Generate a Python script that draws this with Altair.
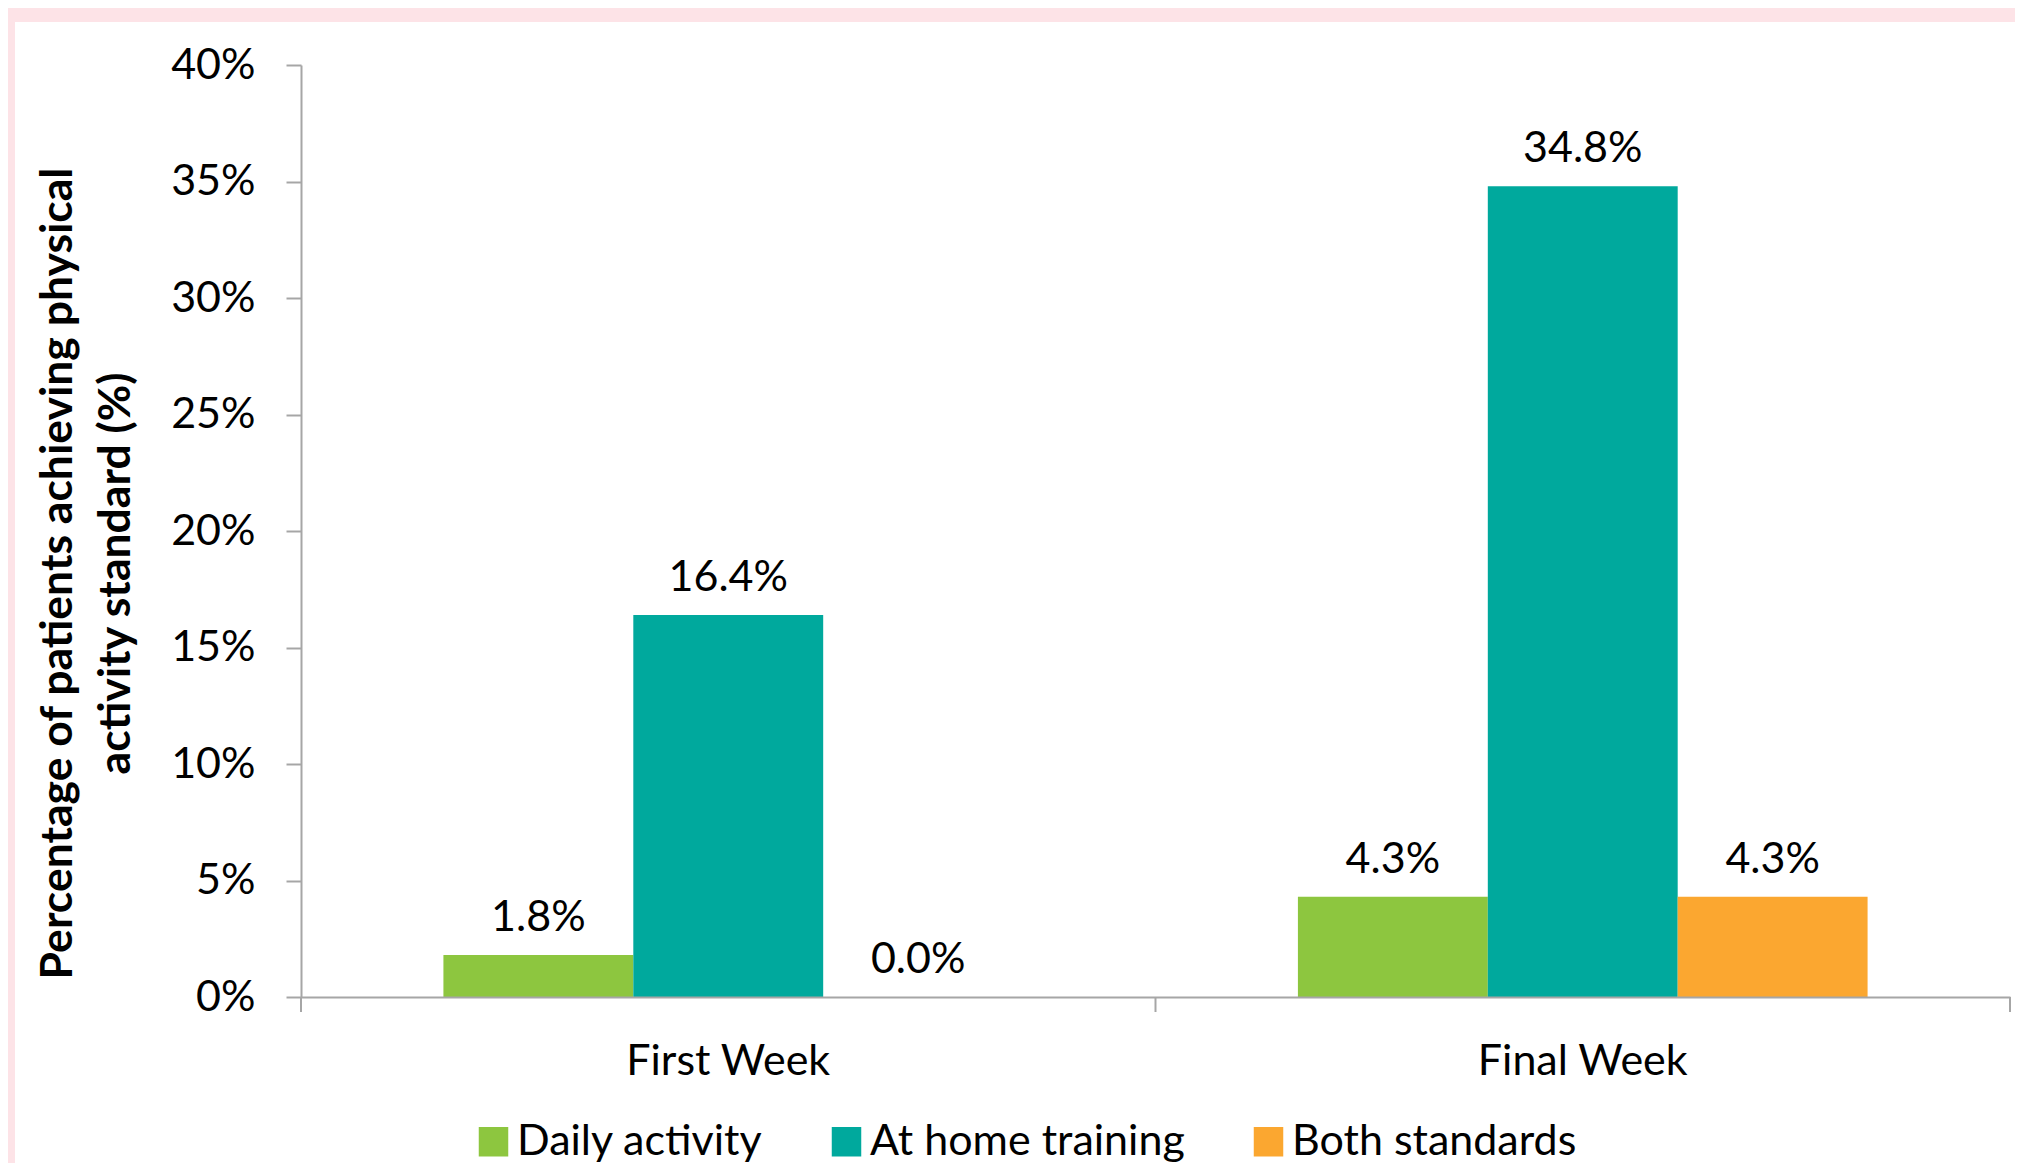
import altair as alt
import pandas as pd

weeks = ["First Week", "Final Week"]
series_names = ["Daily activity", "At home training", "Both standards"]
first_week_values = [0.018, 0.164, 0.000]
final_week_values = [0.043, 0.348, 0.043]
series_colors = ["#8DC63F", "#00A99D", "#FBA730"]
y_ticks = [0, 0.05, 0.10, 0.15, 0.20, 0.25, 0.30, 0.35, 0.40]
y_title = ["Percentage of patients achieving physical", "activity standard (%)"]
category_boundaries = [0, 1, 2]  # edges of the two week groups, in group units

rows = []
for w, vals in zip(weeks, [first_week_values, final_week_values]):
    for s, v in zip(series_names, vals):
        rows.append({"week": w, "series": s, "value": v})
df = pd.DataFrame(rows)

FONT = "Lato"
PINK = "#FDE3E7"
AXIS_GRAY = "#A6A6A6"
W, H = 1709, 932
PAD = {"left": 293, "top": 57, "right": 5, "bottom": 166}
OX, OY = 8 + PAD["left"], 8 + PAD["top"]  # page position of plot origin

x_enc = alt.X(
    "week:N", sort=weeks, title=None,
    scale=alt.Scale(paddingInner=1 / 3, paddingOuter=1 / 6),
    axis=alt.Axis(
        labelAngle=0, labelFont=FONT, labelFontSize=43, labelColor="black",
        labelPadding=43, labelLimit=1000, ticks=False,
        domainColor=AXIS_GRAY, domainWidth=2, zindex=1,
    ),
)
xo_enc = alt.XOffset("series:N", sort=series_names,
                     scale=alt.Scale(paddingInner=0, paddingOuter=0))
y_enc = alt.Y(
    "value:Q", title=y_title,
    scale=alt.Scale(domain=[0, 0.4], nice=False, zero=True),
    axis=alt.Axis(
        values=y_ticks, format=".0%", grid=False,
        labelFont=FONT, labelFontSize=43, labelColor="black", labelPadding=31,
        tickSize=15, tickWidth=2, tickColor=AXIS_GRAY,
        domainColor=AXIS_GRAY, domainWidth=2,
        titleFont=FONT, titleFontSize=44.5, titleFontWeight="bold", titleColor="black",
        titleAngle=270, titleAlign="center", titleBaseline="middle",
        titleLineHeight=58, titleX=58 - OX, titleY=573 - OY, zindex=1,
    ),
)
color_enc = alt.Color(
    "series:N", sort=series_names,
    scale=alt.Scale(domain=series_names, range=series_colors),
    legend=alt.Legend(
        title=None, orient="none", direction="horizontal",
        legendX=472 - OX, legendY=1120 - OY,
        symbolType="square", symbolSize=870, symbolStrokeWidth=0,
        labelFont=FONT, labelFontSize=43, labelColor="black",
        labelOffset=2, columnPadding=62, labelLimit=1000, padding=0, zindex=1,
    ),
)

bars = alt.Chart(df).mark_bar().encode(x=x_enc, xOffset=xo_enc, y=y_enc, color=color_enc)

labels = alt.Chart(df).mark_text(
    font=FONT, fontSize=43, dy=-24, baseline="alphabetic", color="black"
).encode(
    x=alt.X("week:N", sort=weeks),
    xOffset=alt.XOffset("series:N", sort=series_names),
    y=alt.Y("value:Q"),
    text=alt.Text("value:Q", format=".1%"),
)

main = alt.layer(bars, labels)

tick_df = pd.DataFrame({"b": category_boundaries})
x_ticks = alt.Chart(tick_df).mark_rule(color=AXIS_GRAY, strokeWidth=2).encode(
    x=alt.X("b:Q", scale=alt.Scale(domain=[0, 2], nice=False, zero=False), axis=None),
    y=alt.value(H), y2=alt.value(H + 15),
)

strip_df = pd.DataFrame({"k": [0]})
left_strip = alt.Chart(strip_df).mark_rect(color=PINK).encode(
    x=alt.value(0 - OX), x2=alt.value(15 - OX),
    y=alt.value(0 - OY), y2=alt.value(1171 - OY),
)
top_strip = alt.Chart(strip_df).mark_rect(color=PINK).encode(
    x=alt.value(0 - OX), x2=alt.value(2023 - OX),
    y=alt.value(0 - OY), y2=alt.value(22 - OY),
)

chart = alt.layer(left_strip, top_strip, main, x_ticks).resolve_scale(
    x="independent"
).properties(
    width=W, height=H,
    autosize=alt.AutoSizeParams(type="none"),
    padding=PAD,
    background="white",
).configure_view(strokeWidth=0)

chart.save("out.html", embed_options={"renderer": "svg", "actions": False})
